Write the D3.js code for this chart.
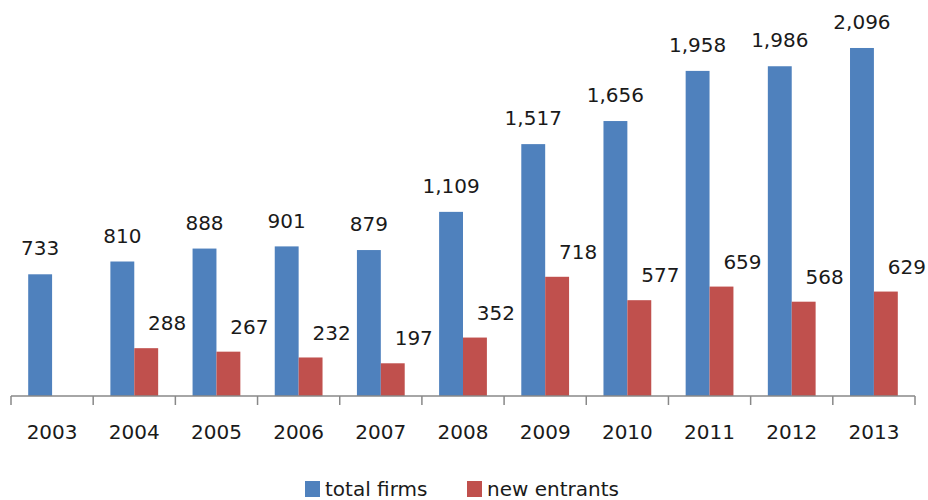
<!DOCTYPE html>
<html>
<head>
<meta charset="utf-8">
<script src="https://cdn.jsdelivr.net/npm/d3@7/dist/d3.min.js"></script>
<style>
  body { margin: 0; background: #fff; }
  text { font-family: "DejaVu Sans", sans-serif; fill: #1a1a1a; }
</style>
</head>
<body>
<div id="chart"></div>
<script>
// data
var years = ["2003","2004","2005","2006","2007","2008","2009","2010","2011","2012","2013"]
var totalFirms = [733, 810, 888, 901, 879, 1109, 1517, 1656, 1958, 1986, 2096]
var newEntrants = [null, 288, 267, 232, 197, 352, 718, 577, 659, 568, 629]
var seriesNames = ["total firms", "new entrants"]
var col = ["#4F81BD", "#C0504D"]

var width = 928, height = 500
var svg = d3.select("#chart").append("svg")
    .attr("width", width)
    .attr("height", height)

var x0 = d3.scaleBand().domain(years).range([11, 915]).padding(0)
var x1 = d3.scaleBand().domain(seriesNames).range([0, x0.bandwidth()]).paddingInner(0).paddingOuter(0.72)
var y = d3.scaleLinear().domain([0, 2385]).range([396, 0])

var rows = years.map(function(yr, i){
    return [
        {year: yr, s: seriesNames[0], v: totalFirms[i], c: 0},
        {year: yr, s: seriesNames[1], v: newEntrants[i], c: 1}
    ].filter(function(d){ return d.v != null })
})
var flat = [].concat.apply([], rows)

// bars
svg.selectAll("rect.bar")
    .data(flat)
    .enter()
    .append("rect")
    .attr("class", "bar")
    .attr("x", function(d){ return x0(d.year) + x1(d.s) })
    .attr("y", function(d){ return y(d.v) })
    .attr("width", x1.bandwidth())
    .attr("height", function(d){ return y(0) - y(d.v) })
    .attr("fill", function(d){ return col[d.c] })

// value labels
svg.selectAll("text.lbl")
    .data(flat)
    .enter()
    .append("text")
    .attr("class", "lbl")
    .attr("x", function(d){ return x0(d.year) + x1(d.s) + x1.bandwidth()/2 + (d.c == 1 ? 21 : 0) })
    .attr("y", function(d){ return y(d.v) - (d.c == 1 ? 25 : 26) })
    .attr("dy", "0.36em")
    .attr("text-anchor", "middle")
    .style("font-size", "20px")
    .text(function(d){ return d3.format(",")(d.v) })

// x axis
var axis = svg.append("g")
    .attr("transform", "translate(0,396)")
axis.append("line")
    .attr("x1", 11).attr("x2", 915)
    .attr("stroke", "#888").attr("stroke-width", 1.5)
var bounds = years.map(function(yr){ return x0(yr) }).concat([915])
axis.selectAll("line.tick")
    .data(bounds)
    .enter()
    .append("line")
    .attr("class", "tick")
    .attr("x1", function(d){ return d }).attr("x2", function(d){ return d })
    .attr("y1", 0).attr("y2", 9)
    .attr("stroke", "#888").attr("stroke-width", 1.5)
axis.selectAll("text")
    .data(years)
    .enter()
    .append("text")
    .attr("x", function(d){ return x0(d) + x0.bandwidth()/2 })
    .attr("y", 36)
    .attr("dy", "0.36em")
    .attr("text-anchor", "middle")
    .style("font-size", "20px")
    .text(function(d){ return d })

// legend
var legX = [305, 467]
var leg = svg.selectAll("g.leg")
    .data(seriesNames)
    .enter()
    .append("g")
    .attr("class", "leg")
    .attr("transform", function(d, i){ return "translate(" + legX[i] + ",481)" })
leg.append("rect")
    .attr("width", 15).attr("height", 16)
    .attr("fill", function(d, i){ return col[i] })
leg.append("text")
    .attr("x", 20)
    .attr("y", 8)
    .attr("dy", "0.36em")
    .style("font-size", "20px")
    .text(function(d){ return d })
</script>
</body>
</html>
